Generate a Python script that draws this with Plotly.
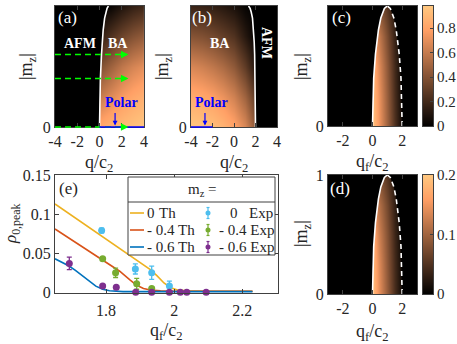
import plotly.graph_objects as go

W, H = 457, 344
FONT = "Liberation Serif"
AX_COLOR = "#404040"
TXT_COLOR = "#262626"

# MATLAB default line colours
C_YELLOW = "#EDB120"
C_ORANGE = "#D95319"
C_BLUE = "#0072BD"
C_LBLUE = "#4DBEEE"
C_GREEN = "#77AC30"
C_PURPLE = "#7E2F8E"

# ---- phase boundaries (a)-(d)
m_bound = [0, 0.2, 0.4, 0.6, 0.7, 0.8, 0.9, 0.95, 0.98, 1.0]
q_bound_a = [0, 0.02, 0.08, 0.18, 0.25, 0.33, 0.46, 0.58, 0.68, 0.8]
q_bound_b = [2.0, 1.99, 1.97, 1.92, 1.88, 1.82, 1.72, 1.6, 1.5, 1.35]
qf_left = [0, 0.02, 0.08, 0.2, 0.29, 0.4, 0.56, 0.69, 0.8, 1.0]
qf_right = [2.0, 1.98, 1.92, 1.8, 1.71, 1.6, 1.44, 1.31, 1.2, 1.0]

# ---- heat map samples (rows = |m_z|)
m_grid = [0, 0.25, 0.5, 0.75, 1]
q_grid_a = [0, 1, 2, 3, 4]
z_a = [
    [0.85, 0.90, 0.94, 0.97, 1.00],
    [0.62, 0.70, 0.78, 0.84, 0.88],
    [0.40, 0.50, 0.60, 0.67, 0.72],
    [0.15, 0.25, 0.34, 0.41, 0.46],
    [0.00, 0.03, 0.10, 0.16, 0.20],
]
q_grid_b = [-4, -3, -2, -1, 0, 1, 2]
z_b = [
    [1.00, 0.98, 0.95, 0.90, 0.82, 0.68, 0.42],
    [0.86, 0.84, 0.80, 0.74, 0.65, 0.50, 0.28],
    [0.68, 0.65, 0.60, 0.54, 0.45, 0.30, 0.10],
    [0.42, 0.40, 0.36, 0.31, 0.25, 0.12, 0.00],
    [0.18, 0.17, 0.15, 0.12, 0.08, 0.02, 0.00],
]
qf_grid = [0, 0.5, 1, 1.5, 2]
z_c = [
    [0.95, 0.72, 0.47, 0.24, 0.05],
    [0.92, 0.70, 0.45, 0.22, 0.04],
    [0.88, 0.66, 0.42, 0.20, 0.03],
    [0.75, 0.58, 0.36, 0.16, 0.02],
    [0.50, 0.40, 0.25, 0.10, 0.00],
]
z_d = [
    [0.190, 0.140, 0.090, 0.045, 0.010],
    [0.185, 0.135, 0.085, 0.042, 0.008],
    [0.175, 0.125, 0.080, 0.038, 0.006],
    [0.150, 0.110, 0.070, 0.030, 0.004],
    [0.100, 0.080, 0.050, 0.020, 0.000],
]
# colour bar ranges and ticks for (c) and (d)
cbar_c_range = [0, 0.98]
cbar_c_ticks = [0, 0.2, 0.4, 0.6, 0.8]
cbar_d_range = [0, 0.2]
cbar_d_ticks = [0, 0.1, 0.2]

# quench arrows in (a) and polar segments
quench_m = [0.6, 0.4, 0]
quench_q = [-4, 2.6]
polar_a_q = [0, 4]
polar_b_q = [-4, -2]

# ---- panel (e): theory curves
th0_q = [1.65, 1.70, 1.75, 1.80, 1.85, 1.90, 1.93, 1.95, 1.97, 1.99, 2.01, 2.04, 2.10, 2.23]
th0_rho = [0.113, 0.098, 0.083, 0.068, 0.053, 0.038, 0.029, 0.021, 0.012, 0.006, 0.003, 0.002, 0.0015, 0.0015]
th04_q = [1.65, 1.70, 1.75, 1.80, 1.84, 1.87, 1.89, 1.91, 1.93, 1.96, 2.00, 2.23]
th04_rho = [0.081, 0.067, 0.053, 0.039, 0.027, 0.016, 0.009, 0.005, 0.003, 0.002, 0.0015, 0.0015]
th06_q = [1.65, 1.67, 1.69, 1.71, 1.73, 1.75, 1.77, 1.79, 1.81, 1.85, 2.23]
th06_rho = [0.043, 0.039, 0.034, 0.028, 0.021, 0.014, 0.008, 0.004, 0.002, 0.001, 0.001]

# ---- panel (e): experiment
exp0_q = [1.787, 1.886, 1.934, 1.986]
exp0_rho = [0.079, 0.030, 0.025, 0.008]
exp0_err = [0.003, 0.0065, 0.0085, 0.0065]
exp04_q = [1.79, 1.828, 1.89, 1.934]
exp04_rho = [0.043, 0.025, 0.011, 0.005]
exp04_err = [0.002, 0.006, 0.007, 0.002]
exp06_q = [1.692, 1.79, 1.83, 1.887, 1.934, 1.986, 2.018, 2.037, 2.094]
exp06_rho = [0.037, 0.008, 0.0065, 0, 0, 0, 0, 0, 0]
exp06_err = [0.008, 0.001, 0.001, 0, 0, 0, 0, 0, 0]

COPPER = [[0, "rgb(0,0,0)"], [0.8, "rgb(255,159,101)"], [1, "rgb(255,199,127)"]]


def fx(x):
    return x / W


def fy(y):
    return 1 - y / H


fig = go.Figure()


def add_heat(x, y, z, zmax, xa, ya):
    fig.add_trace(go.Heatmap(
        x=x, y=y, z=z, colorscale=COPPER, zmin=0, zmax=zmax, zsmooth="best",
        showscale=False, xaxis=xa, yaxis=ya, hoverinfo="skip"))


def add_mask(xs, ys, xa, ya):
    fig.add_trace(go.Scatter(x=xs, y=ys, fill="toself", fillcolor="black",
                             mode="lines", line=dict(width=0, color="black"),
                             xaxis=xa, yaxis=ya, hoverinfo="skip"))


def add_line(xs, ys, xa, ya, dash=None, color="white", width=1.6):
    fig.add_trace(go.Scatter(x=xs, y=ys, mode="lines",
                             line=dict(color=color, width=width, dash=dash),
                             xaxis=xa, yaxis=ya, hoverinfo="skip"))


# (a)
add_heat(q_grid_a, m_grid, z_a, 1, "x", "y")
add_mask([-4] + q_bound_a + [-4], [0] + m_bound + [1], "x", "y")
add_line(q_bound_a, m_bound, "x", "y")
# (b)
add_heat(q_grid_b, m_grid, z_b, 1, "x2", "y2")
add_mask([4] + q_bound_b + [4], [0] + m_bound + [1], "x2", "y2")
add_line(q_bound_b, m_bound, "x2", "y2")
# (c)
add_heat(qf_grid, m_grid, z_c, cbar_c_range[1], "x3", "y3")
add_mask([-3] + qf_left + [-3], [0] + m_bound + [1], "x3", "y3")
add_mask([3] + qf_right + [3], [0] + m_bound + [1], "x3", "y3")
add_line(qf_left, m_bound, "x3", "y3")
add_line(qf_right, m_bound, "x3", "y3", dash="5px,4px")
# (d)
add_heat(qf_grid, m_grid, z_d, cbar_d_range[1], "x4", "y4")
add_mask([-3] + qf_left + [-3], [0] + m_bound + [1], "x4", "y4")
add_mask([3] + qf_right + [3], [0] + m_bound + [1], "x4", "y4")
add_line(qf_left, m_bound, "x4", "y4")
add_line(qf_right, m_bound, "x4", "y4", dash="5px,4px")

# colour bars drawn as thin gradient heat maps on their own axes
for rng, xa, ya in [(cbar_c_range, "x6", "y6"), (cbar_d_range, "x7", "y7")]:
    fig.add_trace(go.Heatmap(x=[0, 1], y=rng, z=[[v, v] for v in rng], colorscale=COPPER,
                             zmin=rng[0], zmax=rng[1], zsmooth="best", showscale=False,
                             xaxis=xa, yaxis=ya, hoverinfo="skip"))

# (e) theory
for q, r, c in [(th0_q, th0_rho, C_YELLOW), (th04_q, th04_rho, C_ORANGE), (th06_q, th06_rho, C_BLUE)]:
    add_line(q, r, "x5", "y5", color=c, width=1.6)
# (e) experiment
for q, r, e, c in [(exp0_q, exp0_rho, exp0_err, C_LBLUE),
                   (exp04_q, exp04_rho, exp04_err, C_GREEN),
                   (exp06_q, exp06_rho, exp06_err, C_PURPLE)]:
    fig.add_trace(go.Scatter(
        x=q, y=r, mode="markers", marker=dict(color=c, size=7),
        error_y=dict(type="data", array=e, color=c, thickness=1.3, width=2.5),
        xaxis="x5", yaxis="y5", cliponaxis=False, hoverinfo="skip"))

tickfont = dict(family=FONT, size=16, color=TXT_COLOR)


def axis(dom, rng, vals, anchor, texts=None, standoff=0, **kw):
    d = dict(domain=dom, range=rng, anchor=anchor, tickvals=vals,
             ticktext=texts if texts else [f"{v:g}" for v in vals],
             showline=True, mirror="ticks", linecolor=AX_COLOR, linewidth=1,
             ticks="inside", ticklen=4, tickcolor=AX_COLOR,
             showgrid=False, zeroline=False, tickfont=tickfont,
             ticklabelstandoff=standoff, fixedrange=True)
    d.update(kw)
    return d


cb_font = dict(family=FONT, size=15, color=TXT_COLOR)
fig.update_layout(
    width=W, height=H,
    margin=dict(l=0, r=0, t=0, b=0, autoexpand=False),
    paper_bgcolor="white", plot_bgcolor="white", showlegend=False,
    font=dict(family=FONT, color=TXT_COLOR),
    xaxis=axis([fx(55), fx(144)], [-4, 4], [-4, -2, 0, 2, 4], "y"),
    yaxis=axis([fy(127), fy(6)], [0, 1], [0, 1], "x"),
    xaxis2=axis([fx(191), fx(277)], [-4, 4], [-4, -2, 0, 2, 4], "y2"),
    yaxis2=axis([fy(127), fy(6)], [0, 1], [0, 1], "x2"),
    xaxis3=axis([fx(328), fx(417)], [-3, 3], [-2, 0, 2], "y3"),
    yaxis3=axis([fy(126), fy(6)], [0, 1], [0, 1], "x3"),
    xaxis4=axis([fx(328), fx(417)], [-3, 3], [-2, 0, 2], "y4"),
    yaxis4=axis([fy(294), fy(175)], [0, 1], [0, 1], "x4"),
    xaxis5=axis([fx(55), fx(278)], [1.65, 2.305], [1.8, 2, 2.2], "y5", ["1.8", "2", "2.2"], 3),
    yaxis5=axis([fy(293), fy(175)], [-0.0008, 0.15], [0, 0.05, 0.1, 0.15], "x5"),
    xaxis6=axis([fx(423), fx(433)], [0, 1], [], "y6", [], ticks="", mirror=True),
    yaxis6=axis([fy(126), fy(6)], cbar_c_range, cbar_c_ticks, "x6", side="right",
                ticklen=3, mirror=True, tickfont=cb_font),
    xaxis7=axis([fx(423), fx(433)], [0, 1], [], "y7", [], ticks="", mirror=True),
    yaxis7=axis([fy(294), fy(175)], cbar_d_range, cbar_d_ticks, "x7", side="right",
                ticklen=3, mirror=True, tickfont=cb_font),
)

shapes = []
ann = []


def text(x, y, s, size=16, color=TXT_COLOR, bold=False, angle=0, xanchor="center", yanchor="middle"):
    if bold:
        s = f"<b>{s}</b>"
    ann.append(dict(x=fx(x), y=fy(y), xref="paper", yref="paper", text=s,
                    showarrow=False, xanchor=xanchor, yanchor=yanchor,
                    textangle=angle, font=dict(family=FONT, size=size, color=color)))


# quench arrows (a): dashed green lines with arrow heads
ya0, ya1 = fy(127), fy(6)
for m in quench_m:
    yp = ya0 + m * (ya1 - ya0)
    shapes.append(dict(type="line", xref="x", yref="paper", x0=quench_q[0], x1=quench_q[1] - 0.3,
                       y0=yp, y1=yp, line=dict(color="#00FF00", width=1.5, dash="6px,4px")))
    ann.append(dict(x=quench_q[1], y=yp, xref="x", yref="paper", ax=-9, ay=0, text="",
                    showarrow=True, arrowhead=2, arrowsize=1, arrowwidth=1.5, arrowcolor="#00FF00"))

# polar segments along m=0
for q, xa in [(polar_a_q, "x"), (polar_b_q, "x2")]:
    shapes.append(dict(type="line", xref=xa, yref="paper", x0=q[0], x1=q[1], y0=ya0, y1=ya0,
                       line=dict(color="#0000FF", width=1.5)))
for xq, xa in [(1.4, "x"), (-2.7, "x2")]:
    ann.append(dict(x=xq, y=0.012, xref=xa, yref="y" if xa == "x" else "y2", ax=0, ay=-14, text="",
                    showarrow=True, arrowhead=2, arrowsize=0.8, arrowwidth=1.2, arrowcolor="#0000FF"))

# panel labels and region names
text(67, 18, "(a)", 17, "white")
text(202, 18, "(b)", 17, "white")
text(341, 18, "(c)", 17, "white")
text(340, 188, "(d)", 17, "white")
text(68, 188, "(e)", 17, TXT_COLOR)
text(80, 43, "AFM", 14, "white", True)
text(118, 43, "BA", 14, "white", True)
text(121, 102, "Polar", 14, "#0000FF", True)
text(220, 43, "BA", 14, "white", True)
text(267, 43, "AFM", 14, "white", True, 90)
text(211, 103, "Polar", 14, "#0000FF", True)

# axis titles
for x, y in [(99, 150), (234, 150)]:
    text(x, y, "q/c<sub>2</sub>", 18, yanchor="top")
for x, y in [(372, 149), (372, 319), (166, 318)]:
    text(x, y, "q<sub>f</sub>/c<sub>2</sub>", 18, yanchor="top")
for x, y in [(27, 67), (163, 67), (302, 67), (302, 234)]:
    text(x, y, "|m<sub>z</sub>|", 18, angle=-90)
text(12, 224, "<i>ρ</i><sub>0,peak</sub>", 17, angle=-90)

# manual legend for (e)
shapes.append(dict(type="rect", xref="paper", yref="paper", x0=fx(128), x1=fx(275),
                   y0=fy(255), y1=fy(177), fillcolor="white", line=dict(color=AX_COLOR, width=1)))
shapes.append(dict(type="line", xref="paper", yref="paper", x0=fx(128), x1=fx(275),
                   y0=fy(202), y1=fy(202), line=dict(color=AX_COLOR, width=1)))
text(202, 190, "m<sub>z</sub> =", 15)
rows = [213, 230, 247]
th_cols = [C_YELLOW, C_ORANGE, C_BLUE]
ex_cols = [C_LBLUE, C_GREEN, C_PURPLE]
for ry, tc, ec in zip(rows, th_cols, ex_cols):
    shapes.append(dict(type="line", xref="paper", yref="paper", x0=fx(130), x1=fx(144),
                       y0=fy(ry), y1=fy(ry), line=dict(color=tc, width=1.6)))
    shapes.append(dict(type="line", xref="paper", yref="paper", x0=fx(208), x1=fx(208),
                       y0=fy(ry - 5.5), y1=fy(ry + 5.5), line=dict(color=ec, width=1.2)))
    for cy in (ry - 5.5, ry + 5.5):
        shapes.append(dict(type="line", xref="paper", yref="paper", x0=fx(206.5), x1=fx(209.5),
                           y0=fy(cy), y1=fy(cy), line=dict(color=ec, width=1.2)))
    shapes.append(dict(type="circle", xref="paper", yref="paper", x0=fx(205.5), x1=fx(210.5),
                       y0=fy(ry + 2.5), y1=fy(ry - 2.5), fillcolor=ec, line=dict(color=ec, width=0)))
text(145, rows[0], "0", 15, xanchor="left")
text(157, rows[0], "Th", 15, xanchor="left")
text(145, rows[1], "- 0.4 Th", 15, xanchor="left")
text(145, rows[2], "- 0.6 Th", 15, xanchor="left")
text(228, rows[0], "0", 15, xanchor="left")
text(247, rows[0], "Exp", 15, xanchor="left")
text(217, rows[1], "- 0.4 Exp", 15, xanchor="left")
text(217, rows[2], "- 0.6 Exp", 15, xanchor="left")

fig.update_layout(shapes=shapes, annotations=ann)
# the page body has a default 8px margin; drop it so the figure fills the window
fig.write_html("out.html", config={"displayModeBar": False},
               post_script="document.body.style.margin = '0px';")
